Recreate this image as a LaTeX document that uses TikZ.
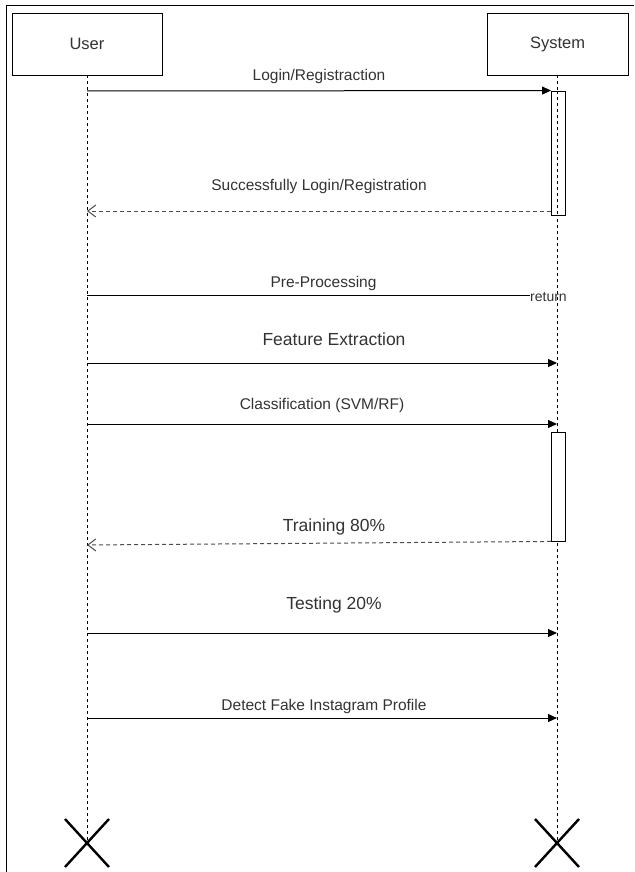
\documentclass[tikz,border=0pt]{standalone}
\usepackage{fontspec}
\setmainfont{Liberation Sans}
\usetikzlibrary{arrows.meta,calc}
\begin{document}
\begin{tikzpicture}[x=1pt,y=-1pt,
  actor/.style={draw, line width=0.9pt, minimum width=150pt, minimum height=62pt, inner sep=0pt, font=\fontsize{16.5}{18}\selectfont, text=black!80},
  lifeline/.style={dashed, dash pattern=on 3pt off 3pt, line width=0.7pt},
  act/.style={draw, fill=white, line width=0.9pt, minimum width=14pt, inner sep=0pt},
  msg/.style={line width=1pt, -{Triangle[length=9pt,width=8pt]}},
  ret/.style={line width=1pt, dashed, dash pattern=on 4pt off 3pt, black!70, -{Straight Barb[length=8pt,width=12pt]}},
  lbl/.style={font=\fontsize{15.5}{17}\selectfont, text=black!80, inner sep=0pt, anchor=center},
  lblbig/.style={font=\fontsize{17.5}{19}\selectfont, text=black!80, inner sep=0pt, anchor=center},
  cross/.style={line width=2.4pt}
]
\useasboundingbox (0,0) rectangle (634,872);
\fill[white] (0,0) rectangle (634,872);
% frame (top and left visible)
\draw[line width=0.9pt] (6,872) -- (6,5) -- (634,5);

% actors
\node[actor] (user) at (87,44) {User};
\node[actor, minimum width=141pt] (sys) at (557.5,44) {System};

% lifeline ends
\coordinate (uend) at (87,843);
\coordinate (send) at (557,843);
\draw[lifeline] (user.south) -- (uend);
\draw[lifeline] (557,75) -- (send);

% activation boxes
\node[act, minimum height=124pt] (act1) at (558.5,153) {};
\draw[lifeline] (557,91) -- (557,215);
\node[act, minimum height=109pt] (act2) at (558.5,486.5) {};

% message anchors on user lifeline
\coordinate (u1) at (87,91);
\coordinate (u2) at (87,211);
\coordinate (u3) at (87,295);
\coordinate (u4) at (87,363);
\coordinate (u5) at (87,424);
\coordinate (u6) at (87,545);
\coordinate (u7) at (87,633);
\coordinate (u8) at (87,718);
% system side
\coordinate (s4) at (557,363);
\coordinate (s5) at (557,424);
\coordinate (s7) at (557,633);
\coordinate (s8) at (557,718);

% 1 Login
\draw[msg] (u1) -- (act1.north west) node[lbl, midway, yshift=14pt] {Login/Registraction};
% 2 Success return
\draw[ret] (act1.west |- u2) -- (u2) node[lbl, midway, yshift=25pt] {Successfully Login/Registration};
% 3 Pre-processing
\node[lbl, anchor=west, inner sep=0pt, font=\fontsize{14}{16}\selectfont] (retn) at (530,297) {return};
\draw[line width=1pt] (u3) -- (retn.west |- u3) node[lbl, midway, xshift=15pt, yshift=12pt] {Pre-Processing};
% 4 Feature extraction
\draw[msg] (u4) -- (s4) node[lblbig, midway, xshift=12pt, yshift=24pt] {Feature Extraction};
% 5 Classification
\draw[msg] (u5) -- (s5) node[lbl, midway, yshift=19pt] {Classification (SVM/RF)};
% 6 Training
\draw[ret] (act2.south west) -- (u6) node[lblbig, midway, xshift=15pt, yshift=16pt] {Training 80\%};
% 7 Testing
\draw[msg] (u7) -- (s7) node[lblbig, midway, xshift=12pt, yshift=28pt] {Testing 20\%};
% 8 Detect
\draw[msg] (u8) -- (s8) node[lbl, midway, xshift=2pt, yshift=12pt] {Detect Fake Instagram Profile};

% destruction crosses
\draw[cross] ($(uend)+(-22,-24)$) -- ($(uend)+(22,24)$) ($(uend)+(22,-24)$) -- ($(uend)+(-22,24)$);
\draw[cross] ($(send)+(-22,-24)$) -- ($(send)+(22,24)$) ($(send)+(22,-24)$) -- ($(send)+(-22,24)$);
\end{tikzpicture}
\end{document}
